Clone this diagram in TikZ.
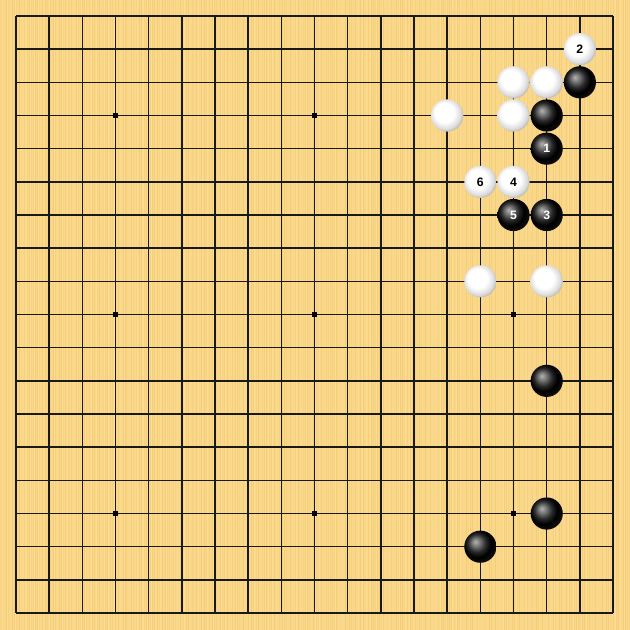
\documentclass[tikz,border=0pt]{standalone}
\usepackage{fontspec}
\setmainfont{Liberation Sans}
\definecolor{boardbg}{RGB}{250,216,138}
\definecolor{grain}{RGB}{238,188,95}
\definecolor{grainlight}{RGB}{255,232,170}
\pgfdeclareradialshading{wshade}{\pgfpoint{-6bp}{6bp}}{color(0bp)=(white); color(15bp)=(white); color(24bp)=(black!14); color(31bp)=(black!38); color(50bp)=(black!38)}
\pgfdeclareradialshading{bshade}{\pgfpoint{-8bp}{8bp}}{color(0bp)=(black!30); color(6bp)=(black!52); color(14bp)=(black!84); color(21bp)=(black); color(28bp)=(black!95); color(34bp)=(black!70); color(50bp)=(black!70)}
\tikzset{
  gridline/.style={line width=0.044cm, black!90},
  starpt/.style={fill=black, minimum size=0.125cm, inner sep=0pt, rectangle},
  bstone/.style={circle, minimum size=0.97cm, inner sep=0pt, shading=bshade, text=white, font=\fontsize{10.5}{12}\selectfont\bfseries},
  wstone/.style={circle, minimum size=0.97cm, inner sep=0pt, shading=wshade, text=black, font=\fontsize{10.5}{12}\selectfont\bfseries},
}
\begin{document}
\begin{tikzpicture}[x=1cm,y=-1cm]
\fill[boardbg] (-0.482,-0.482) rectangle (18.511,18.511);
\useasboundingbox (-0.482,-0.482) rectangle (18.511,18.511);
\foreach \k in {0,...,270} {
  \pgfmathsetmacro{\xx}{-0.47+\k*0.0705+0.02*sin(\k*37)}
  \pgfmathsetmacro{\op}{0.15+0.25*abs(sin(\k*53))}
  \fill[grain, opacity=\op] (\xx,-0.482) rectangle ++(0.025,18.993);
}
\foreach \k in {0,...,135} {
  \pgfmathsetmacro{\xx}{-0.43+\k*0.141+0.03*cos(\k*71)}
  \fill[grainlight, opacity=0.35] (\xx,-0.482) rectangle ++(0.03,18.993);
}
\foreach \i in {0,...,18} {
  \draw[gridline] (\i,0) -- (\i,18);
  \draw[gridline] (0,\i) -- (18,\i);
}
\foreach \a/\b [count=\n] in {3/3,9/3,15/3,3/9,9/9,15/9,3/15,9/15,15/15} {
  \node[starpt] (star\n) at (\a,\b) {};
}
% white stones
\node[wstone] (w1) at (17,1) {2};
\node[wstone] (w2) at (15,2) {};
\node[wstone] (w3) at (16,2) {};
\node[wstone] (w4) at (13,3) {};
\node[wstone] (w5) at (15,3) {};
\node[wstone] (w6) at (14,5) {6};
\node[wstone] (w7) at (15,5) {4};
\node[wstone] (w8) at (14,8) {};
\node[wstone] (w9) at (16,8) {};
% black stones
\node[bstone] (b1) at (17,2) {};
\node[bstone] (b2) at (16,3) {};
\node[bstone] (b3) at (16,4) {1};
\node[bstone] (b4) at (15,6) {5};
\node[bstone] (b5) at (16,6) {3};
\node[bstone] (b6) at (16,11) {};
\node[bstone] (b7) at (16,15) {};
\node[bstone] (b8) at (14,16) {};
\end{tikzpicture}
\end{document}
